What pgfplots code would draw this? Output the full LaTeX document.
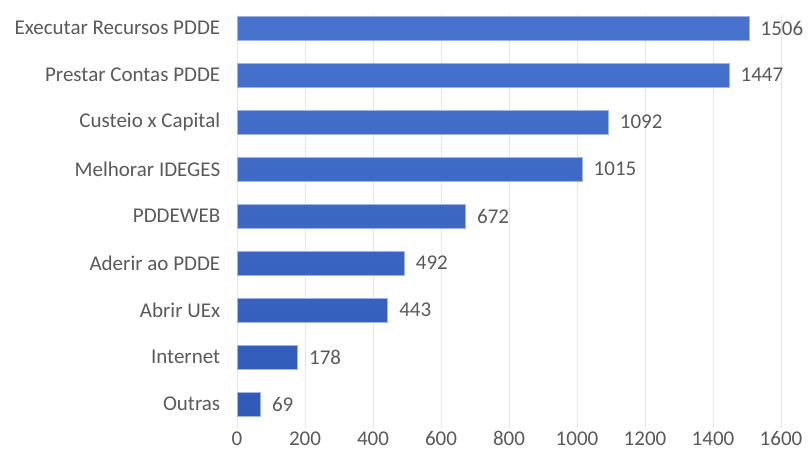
\documentclass[border=0pt]{standalone}
\usepackage{pgfplots}
\pgfplotsset{compat=1.18}
\usepackage{fontspec}
\setmainfont{Carlito}
\definecolor{txt}{HTML}{595959}
\definecolor{gridc}{HTML}{E1E6EE}
\definecolor{bartop}{HTML}{4873CE}
\definecolor{barbot}{HTML}{305AB8}
\definecolor{baredge}{HTML}{9DB4E4}
\begin{document}
\begin{tikzpicture}
\useasboundingbox (0,0) rectangle (808pt,461pt);
\begin{axis}[
  at={(237pt,33pt)}, anchor=south west,
  scale only axis, width=544pt, height=413pt,
  xbar, bar width=24pt,
  xmin=0, xmax=1600, ymin=-0.51, ymax=8.28,
  xtick={0,200,...,1600},
  ytick={0,...,8},
  yticklabels={Outras,Internet,Abrir UEx,Aderir ao PDDE,PDDEWEB,Melhorar IDEGES,Custeio x Capital,Prestar Contas PDDE,Executar Recursos PDDE},
  axis line style={draw=none},
  tick style={draw=none},
  xmajorgrids, grid style={draw=gridc, line width=1pt},
  ticklabel style={font=\fontsize{21}{23}\selectfont, text=txt},
  /pgf/number format/assume math mode=true,
  /pgf/number format/1000 sep={},
  xticklabel style={yshift=0pt},
  yticklabel style={xshift=-9pt},
  nodes near coords,
  every node near coord/.append style={font=\fontsize{21}{23}\selectfont, text=txt, anchor=west, xshift=8pt},
  clip=false,
]
\addplot[draw=baredge, line width=0.6pt, top color=bartop, bottom color=barbot] coordinates {
(69,0) (178,1) (443,2) (492,3) (672,4) (1015,5) (1092,6) (1447,7) (1506,8)};
\end{axis}
\end{tikzpicture}
\end{document}
